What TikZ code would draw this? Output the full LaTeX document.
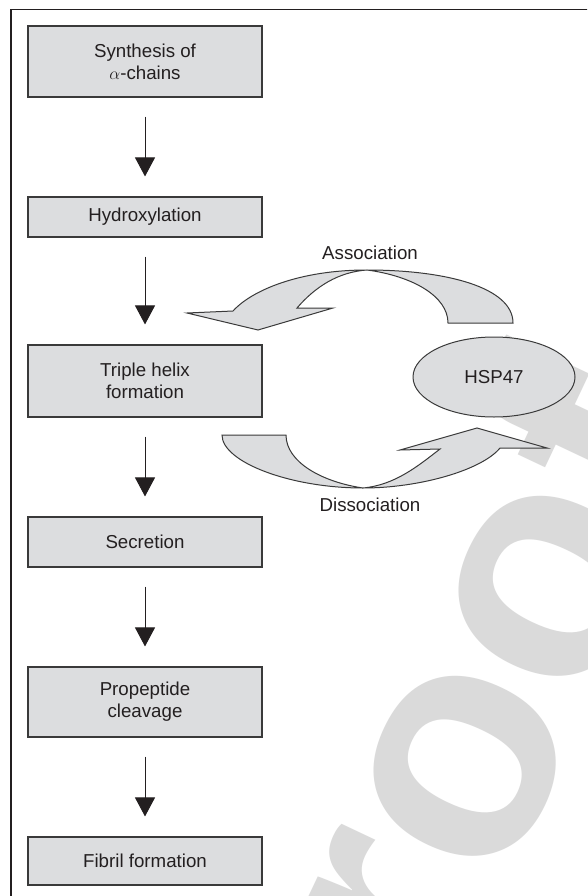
\documentclass[tikz,border=0pt]{standalone}
\usepackage{fontspec}
\setmainfont{Liberation Sans}
\usetikzlibrary{arrows.meta,shapes.geometric}
\definecolor{boxgray}{HTML}{DCDDDF}
\definecolor{wmgray}{HTML}{DADADA}
\definecolor{ink}{HTML}{231F20}
\definecolor{edge}{HTML}{3A3A3A}
\begin{document}
\begin{tikzpicture}[x=1pt,y=-1pt,
  stepbox/.style={draw=edge, fill=boxgray, line width=1.1pt, minimum width=234pt,
    align=center, inner sep=0pt, text=ink, font=\fontsize{18.7}{22}\selectfont},
  flow/.style={draw=ink, line width=1pt, -{Triangle[length=19pt,width=20pt]},
    shorten <=19pt, shorten >=20pt},
  bigarrow/.style={draw=edge, fill=boxgray, line width=1pt, line join=miter},
  lbl/.style={text=ink, font=\fontsize{18.7}{22}\selectfont, inner sep=0pt}]
\useasboundingbox (0,0) rectangle (587,896);
\fill[white] (0,0) rectangle (587,896);
\begin{scope}
  \clip (0,0) rectangle (587,896);
  \node[rotate=64.7, anchor=base west, inner sep=0pt, text=wmgray,
        font=\fontsize{326}{326}\selectfont\bfseries] (wm) at (353.6,1205.1) {Proof};
  \draw[line width=1.3pt, draw=ink] (11,900) -- (11,9.5) -- (600,9.5);
\end{scope}

% flow boxes
\node[stepbox, minimum height=71pt] (b1) at (145,61.5) {Synthesis of\\$\alpha$-chains};
\node[stepbox, minimum height=40pt] (b2) at (145,217) {Hydroxylation};
\node[stepbox, minimum height=72pt] (b3) at (145,381) {Triple helix\\formation};
\node[stepbox, minimum height=50pt] (b4) at (145,542) {Secretion};
\node[stepbox, minimum height=70pt] (b5) at (145,702) {Propeptide\\cleavage};
\node[stepbox, minimum height=48pt] (b6) at (145,861) {Fibril formation};

\draw[flow] (b1) -- (b2);
\draw[flow] (b2) -- (b3);
\draw[flow] (b3) -- (b4);
\draw[flow] (b4) -- (b5);
\draw[flow] (b5) -- (b6);

% HSP47
\node[ellipse, draw=edge, fill=boxgray, line width=1pt, minimum width=162pt,
      minimum height=80pt, inner sep=0pt, text=ink,
      font=\fontsize{18.7}{22}\selectfont] (hsp) at (494,377) {HSP47};

% Association arrow
\draw[bigarrow] (513,323) .. controls (513,287) and (445,270) .. (367,270)
   .. controls (300,270) and (252,290) .. (233,311)
   -- (187,313) -- (258,330) -- (333,308) -- (297,308)
   .. controls (315,287) and (338,272) .. (367,270)
   .. controls (412,276) and (448,296) .. (448,323) -- cycle;
\node[lbl] (assoc) at (370,253) {Association};

% Dissociation arrow
\draw[bigarrow] (222,435) .. controls (222,462) and (290,488) .. (363,488)
   .. controls (420,488) and (482,470) .. (500,448)
   -- (547,448) -- (477,428) -- (400,450) -- (440,449)
   .. controls (418,466) and (395,485) .. (363,488)
   .. controls (322,482) and (286,462) .. (286,435) -- cycle;
\node[lbl] (dissoc) at (370,505) {Dissociation};
\end{tikzpicture}
\end{document}
